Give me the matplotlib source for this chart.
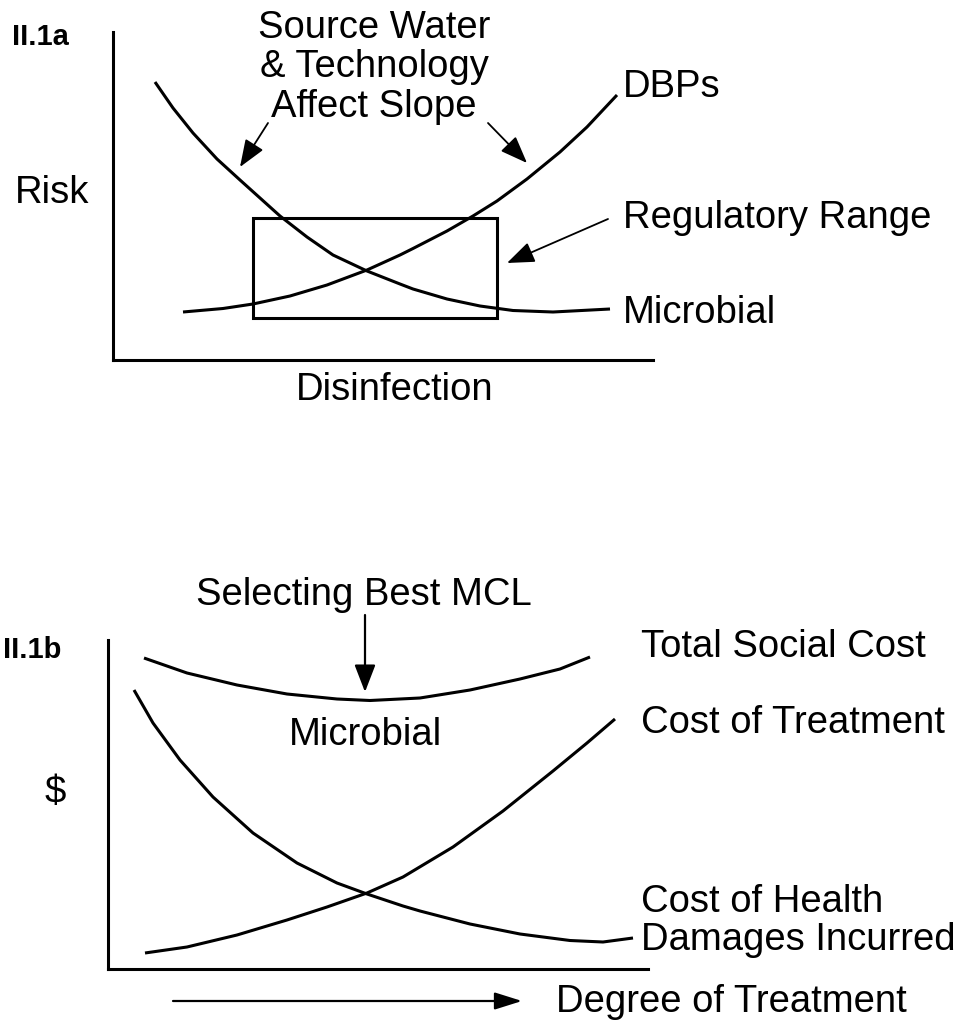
import matplotlib
matplotlib.use("Agg")
import matplotlib.pyplot as plt

plt.rcParams['font.family'] = ['Liberation Sans', 'DejaVu Sans']

# Panel II.1a - risk vs disinfection (arbitrary units)
micro_x = [42, 60, 80, 104, 127, 147, 167, 194, 220, 254, 287, 300, 334, 367, 400, 440, 497]
micro_y = [278, 252, 227, 201, 180, 162, 144, 123, 105, 89, 76, 71, 61, 54, 49.5, 48, 51]
dbp_x = [70, 110, 140, 177, 214, 254, 287, 300, 334, 360, 384, 414, 447, 474, 504]
dbp_y = [48, 51.5, 56, 64, 75, 90, 105, 111.5, 129, 144, 159, 181, 208, 233, 265]
reg_range = (140, 384, 42, 142)  # x0, x1, y0, y1

# Panel II.1b - cost vs degree of treatment
total_x = [36, 79, 129, 179, 229, 262, 312, 362, 412, 452, 482]
total_y = [311, 296, 284, 275, 270, 268.5, 271, 279, 290, 300, 312]
treat_x = [37, 79, 129, 179, 219, 259, 295, 345, 395, 445, 479, 507]
treat_y = [16, 22, 34, 49, 62, 76, 92, 122, 158, 198, 226, 250]
health_x = [26, 45, 72, 105, 145, 189, 229, 259, 295, 312, 362, 412, 462, 495, 525]
health_y = [279, 246, 209, 172, 136, 106, 86, 75, 63, 58, 45, 35, 28.5, 27, 31]

W, H = 968, 1022
fig = plt.figure(figsize=(W / 100, H / 100), dpi=100)
fig.patch.set_facecolor('white')

FS = 27.5
LW = 2.2


def make_axes(left, top, right, bottom):
    ax = fig.add_axes([left / W, 1 - bottom / H, (right - left) / W, (bottom - top) / H])
    ax.set_xlim(0, right - left)
    ax.set_ylim(0, bottom - top)
    for s in ['top', 'right']:
        ax.spines[s].set_visible(False)
    for s in ['left', 'bottom']:
        ax.spines[s].set_linewidth(LW)
        ax.spines[s].set_color('black')
    ax.set_xticks([])
    ax.set_yticks([])
    ax.patch.set_alpha(0)
    return ax


def curve(ax, xs, ys):
    ax.plot(xs, ys, color='black', lw=LW, clip_on=False,
            solid_joinstyle='round', solid_capstyle='butt')


def arrow(ax, start, tip, lw=1.3, hl=0.7, hw=0.27):
    ax.annotate('', xy=tip, xytext=start, annotation_clip=False,
                arrowprops=dict(arrowstyle='-|>,head_length=%s,head_width=%s' % (hl, hw),
                                mutation_scale=24, lw=lw, color='black',
                                shrinkA=0, shrinkB=0))


# ---------- panel a ----------
ax1 = make_axes(113, 32, 653, 360)
curve(ax1, micro_x, micro_y)
curve(ax1, dbp_x, dbp_y)
x0, x1, y0, y1 = reg_range
ax1.add_patch(plt.Rectangle((x0, y0), x1 - x0, y1 - y0, fill=False, lw=LW, ec='black'))

arrow(ax1, (155, 237), (127, 193))
arrow(ax1, (375, 237), (414, 197))
arrow(ax1, (495, 141), (394, 97))

ax1.text(-101, 315, 'II.1a', fontsize=21, ha='left', va='baseline', fontweight='bold')
ax1.text(-98, 157, 'Risk', fontsize=FS, ha='left', va='baseline')
ax1.text(261, 322, 'Source Water', fontsize=FS, ha='center', va='baseline')
ax1.text(261, 283, '& Technology', fontsize=FS, ha='center', va='baseline')
ax1.text(261, 243, 'Affect Slope', fontsize=FS, ha='center', va='baseline')
ax1.text(510, 263, 'DBPs', fontsize=FS, ha='left', va='baseline')
ax1.text(510, 132, 'Regulatory Range', fontsize=FS, ha='left', va='baseline')
ax1.text(510, 37, 'Microbial', fontsize=FS, ha='left', va='baseline')
ax1.text(282, -40, 'Disinfection', fontsize=FS, ha='center', va='baseline')

# ---------- panel b ----------
ax2 = make_axes(108, 640, 648, 969)
curve(ax2, total_x, total_y)
curve(ax2, treat_x, treat_y)
curve(ax2, health_x, health_y)

arrow(ax2, (257, 354), (257, 277), lw=1.6)
arrow(ax2, (65, -32), (414, -32), lw=1.6, hw=0.22)

ax2.text(-105, 311, 'II.1b', fontsize=21, ha='left', va='baseline', fontweight='bold')
ax2.text(-53, 176, '$', fontsize=FS, ha='center', va='center')
ax2.text(256, 364, 'Selecting Best MCL', fontsize=FS, ha='center', va='baseline')
ax2.text(257, 224, 'Microbial', fontsize=FS, ha='center', va='baseline')
ax2.text(533, 312, 'Total Social Cost', fontsize=FS, ha='left', va='baseline')
ax2.text(533, 236, 'Cost of Treatment', fontsize=FS, ha='left', va='baseline')
ax2.text(533, 57, 'Cost of Health', fontsize=FS, ha='left', va='baseline')
ax2.text(533, 19, 'Damages Incurred', fontsize=FS, ha='left', va='baseline')
ax2.text(448, -43, 'Degree of Treatment', fontsize=FS, ha='left', va='baseline')

fig.savefig('out.png', dpi=100, facecolor='white')
